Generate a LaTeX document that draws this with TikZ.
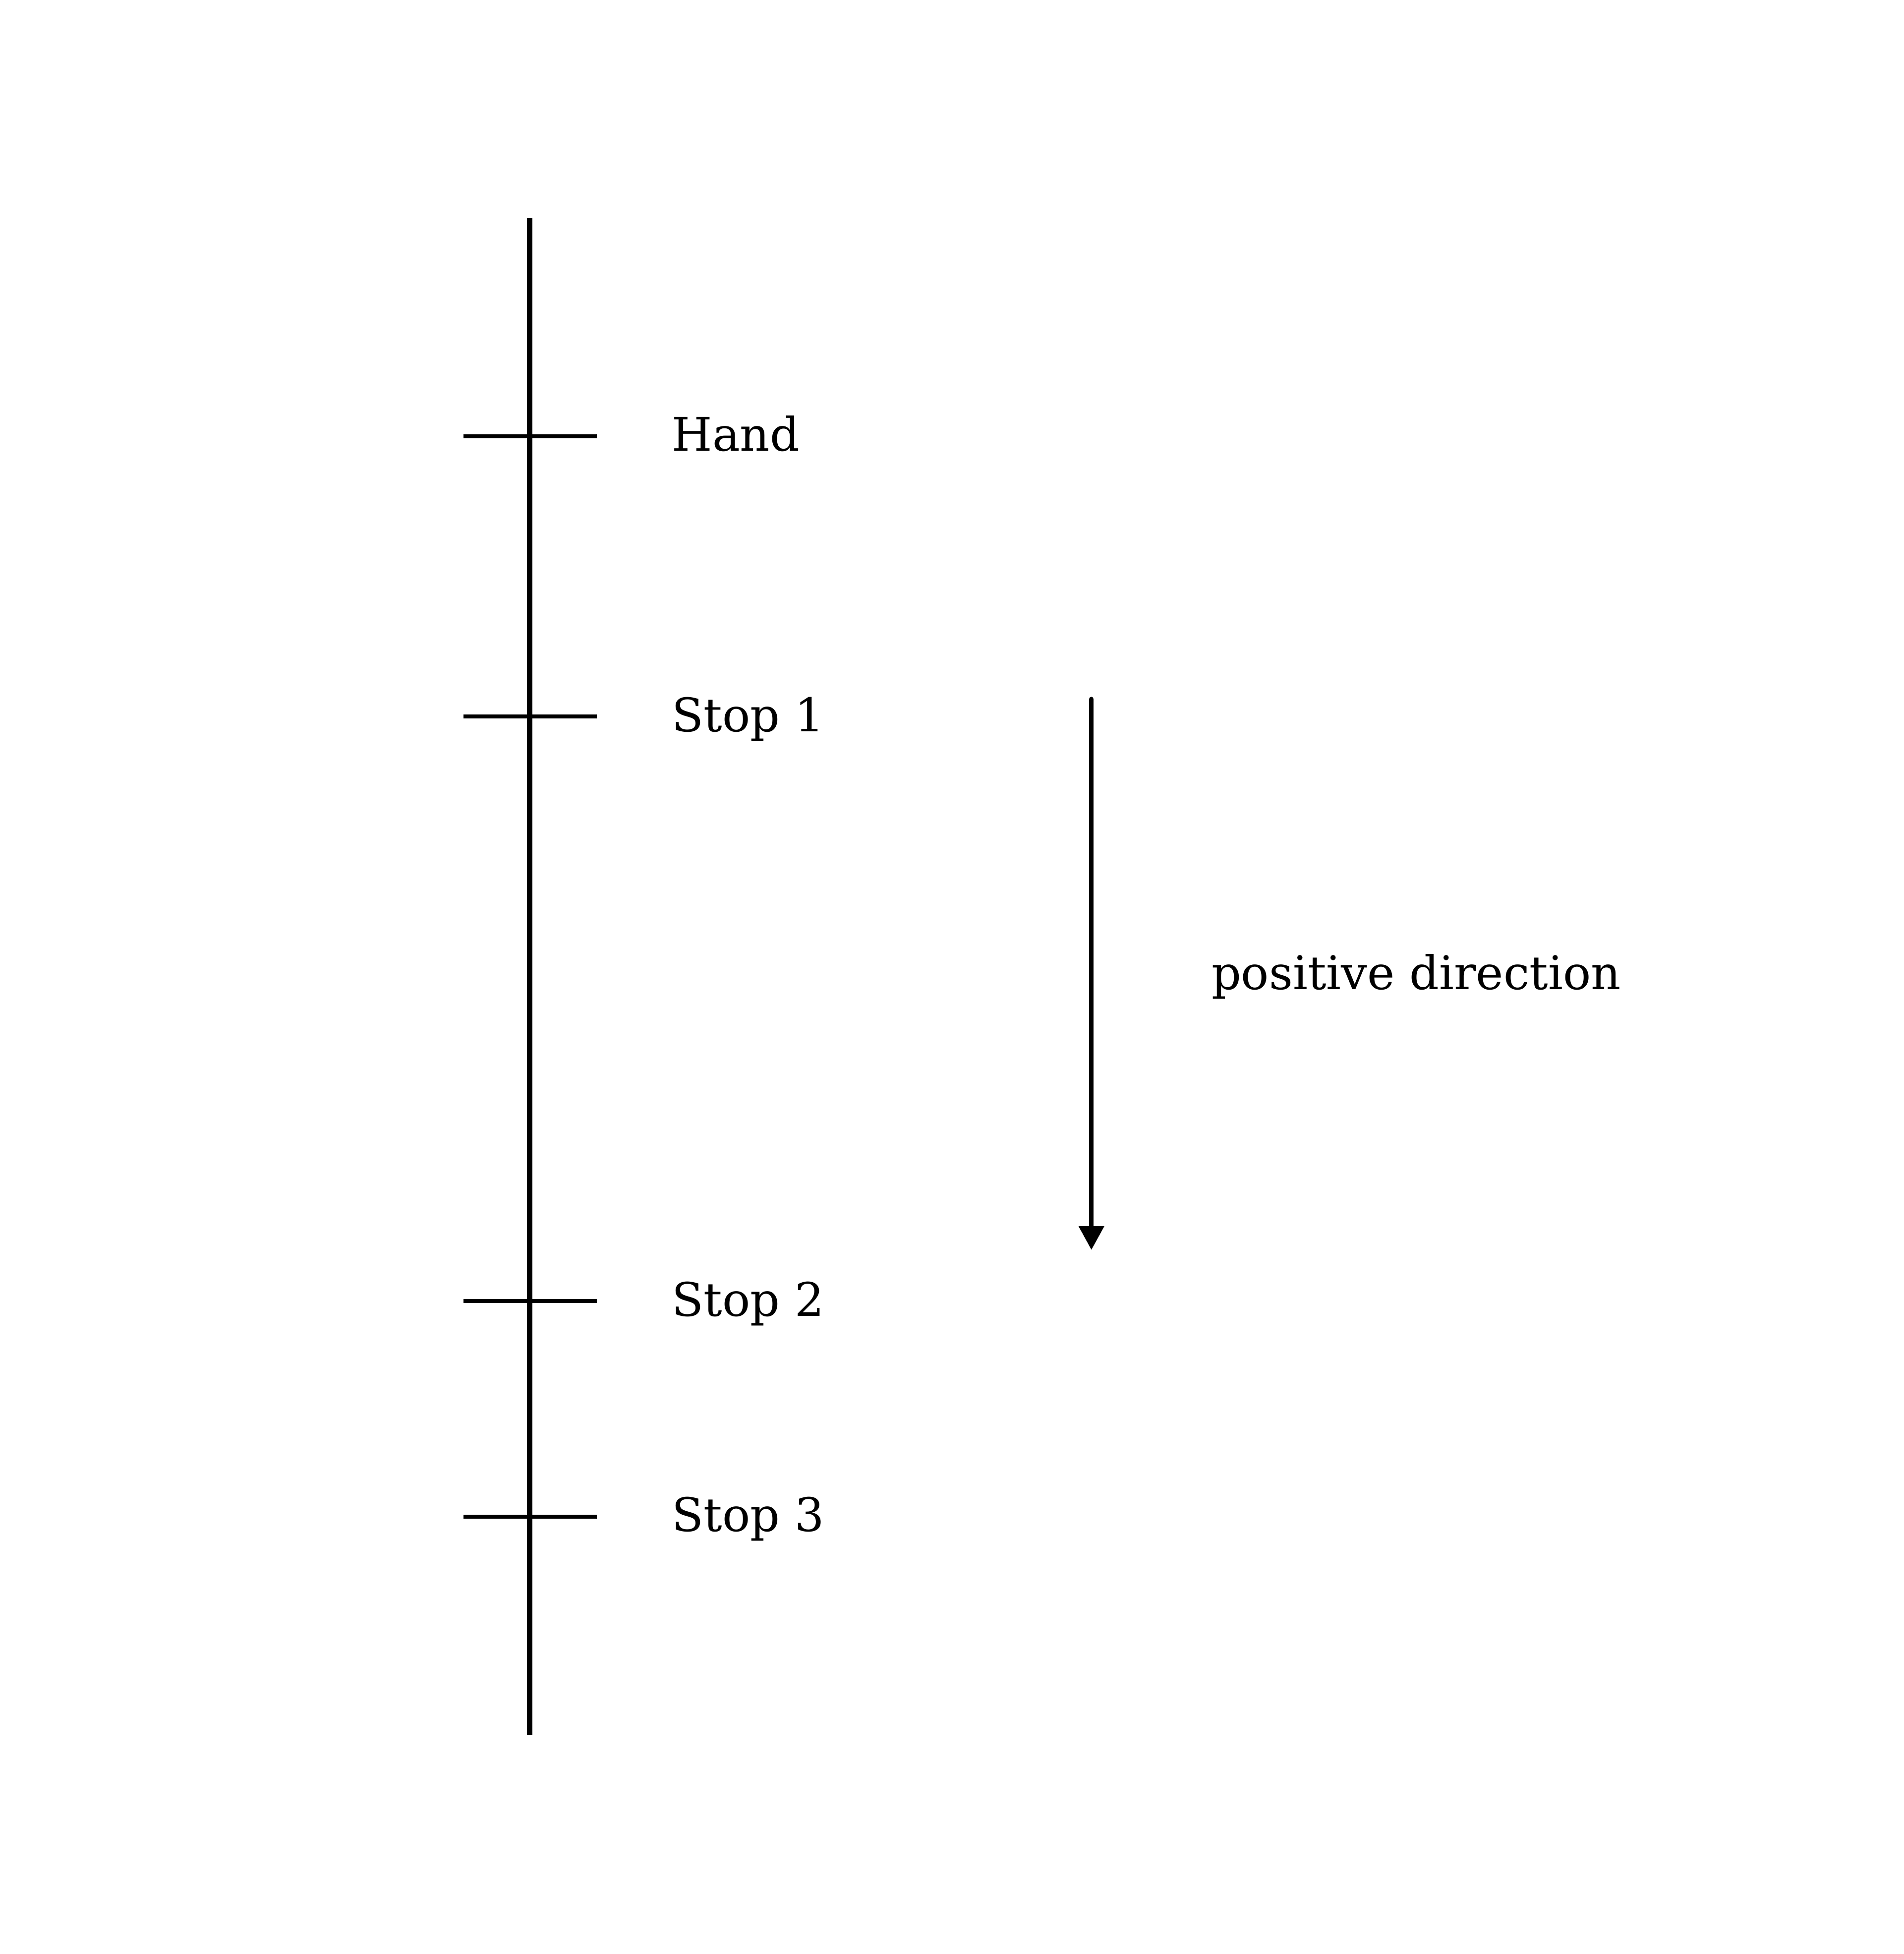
\documentclass[tikz,border=0pt]{standalone}
\usepackage{fontspec}
\setmainfont{DejaVu Serif}
\usetikzlibrary{arrows.meta}
\begin{document}
\begin{tikzpicture}[x=0.5pt,y=-0.5pt,
  axisline/.style={line width=2.2pt},
  tickline/.style={line width=1.6pt},
  lbl/.style={anchor=base west,inner sep=0pt,font=\fontsize{18.6pt}{22pt}\selectfont},
  dirarrow/.style={line width=1.85pt,line cap=round,-{Triangle[width=9.8pt,length=9.5pt]}}]
\useasboundingbox (0,0) rectangle (1528,1568);
\coordinate (top) at (425,175);
\coordinate (bot) at (425,1392);
\draw[axisline] (top) -- (bot);
\foreach \nm/\yy/\txt in {hand/350/Hand,s1/575/Stop 1,s2/1044/Stop 2,s3/1217/Stop 3}{
  \coordinate (\nm L) at (372,\yy);
  \coordinate (\nm R) at (479,\yy);
  \draw[tickline] (\nm L) -- (\nm R);
  \node[lbl] (\nm T) at (539,\yy+12) {\txt};
}
\coordinate (arrS) at (876,561);
\coordinate (arrE) at (876,1003);
\draw[dirarrow] (arrS) -- (arrE);
\node[lbl] (dir) at (972,794) {positive direction};
\end{tikzpicture}
\end{document}
